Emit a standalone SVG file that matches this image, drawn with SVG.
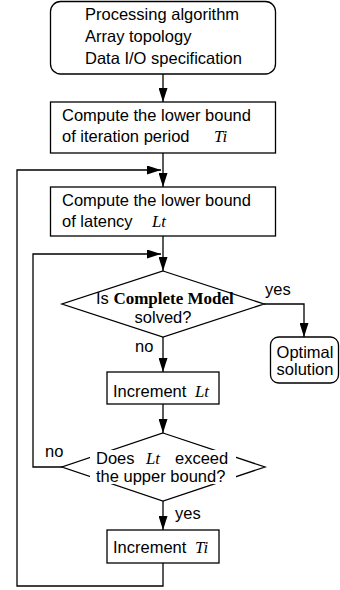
<svg xmlns="http://www.w3.org/2000/svg" width="340" height="590" viewBox="0 0 340 590">
<style>
.box{fill:#fff;stroke:#000;stroke-width:1.3}
.ln{fill:none;stroke:#000;stroke-width:1.3}
.t{font-family:"Liberation Sans",Arial,sans-serif;font-size:16.5px;fill:#000}
.v{font-family:"Liberation Serif","Times New Roman",serif;font-size:16.8px;font-style:italic;fill:#000}
.b{font-family:"Liberation Serif","Times New Roman",serif;font-size:17px;font-weight:bold;fill:#000}
</style>
<defs>
<marker id="ah" viewBox="0 0 14 9" refX="14" refY="4.5" markerWidth="14" markerHeight="9" markerUnits="userSpaceOnUse" orient="auto">
<path d="M0,0 L14,4.5 L0,9 z" fill="#000"/>
</marker>
</defs>
<g id="connectors">
<line class="ln" x1="163" y1="74" x2="163" y2="102" marker-end="url(#ah)"/>
<line class="ln" x1="163" y1="153" x2="163" y2="187" marker-end="url(#ah)"/>
<polyline class="ln" points="163,563 163,586 17,586 17,170 161,170" marker-end="url(#ah)"/>
<line class="ln" x1="163" y1="236" x2="163" y2="271" marker-end="url(#ah)"/>
<polyline class="ln" points="63,467 33,467 33,254 161,254" marker-end="url(#ah)"/>
<polyline class="ln" points="264,304 304,304 304,337" marker-end="url(#ah)"/>
<line class="ln" x1="163" y1="337" x2="163" y2="372" marker-end="url(#ah)"/>
<line class="ln" x1="163" y1="404" x2="163" y2="433" marker-end="url(#ah)"/>
<line class="ln" x1="163" y1="501" x2="163" y2="530" marker-end="url(#ah)"/>
<text class="t" x="265" y="295">yes</text>
<text class="t" x="135" y="352">no</text>
<text class="t" x="45" y="457">no</text>
<text class="t" x="175" y="519">yes</text>
</g>
<g id="input">
<rect class="box" x="50.5" y="1.5" width="225" height="72.5" rx="10"/>
<text class="t" x="85" y="20">Processing algorithm</text>
<text class="t" x="85" y="42">Array topology</text>
<text class="t" x="85" y="64">Data I/O specification</text>
</g>
<g id="lower-bound-ti">
<rect class="box" x="50.5" y="102" width="225" height="51"/>
<text class="t" x="62" y="121">Compute the lower bound</text>
<text class="t" x="62" y="142">of iteration period</text>
<text class="v" x="214" y="142">Ti</text>
</g>
<g id="lower-bound-lt">
<rect class="box" x="50.5" y="187" width="225" height="49"/>
<text class="t" x="62" y="206">Compute the lower bound</text>
<text class="t" x="62" y="227">of latency</text>
<text class="v" x="152" y="227">Lt</text>
</g>
<g id="decision-solved">
<polygon class="box" points="163,271 264,304 163,337 62,304"/>
<text x="96" y="304"><tspan class="t">Is </tspan><tspan class="b">Complete Model</tspan></text>
<text class="t" x="163" y="322.5" text-anchor="middle">solved?</text>
</g>
<g id="optimal">
<rect class="box" x="270.5" y="337" width="68" height="46" rx="8"/>
<text class="t" x="305" y="358" text-anchor="middle">Optimal</text>
<text class="t" x="305" y="375" text-anchor="middle">solution</text>
</g>
<g id="increment-lt">
<rect class="box" x="107" y="372" width="112" height="32"/>
<text class="t" x="113" y="397">Increment</text>
<text class="v" x="195" y="397">Lt</text>
</g>
<g id="decision-exceed">
<polygon class="box" points="163,433 265,467 163,501 62,467"/>
<rect x="90" y="450" width="146" height="34" fill="#fff"/>
<text class="t" x="96" y="464">Does</text>
<text class="v" x="146" y="464">Lt</text>
<text class="t" x="175" y="464">exceed</text>
<text class="t" x="96" y="482">the upper bound?</text>
</g>
<g id="increment-ti">
<rect class="box" x="107" y="530" width="112" height="33"/>
<text class="t" x="113" y="553">Increment</text>
<text class="v" x="195" y="553">Ti</text>
</g>
</svg>
